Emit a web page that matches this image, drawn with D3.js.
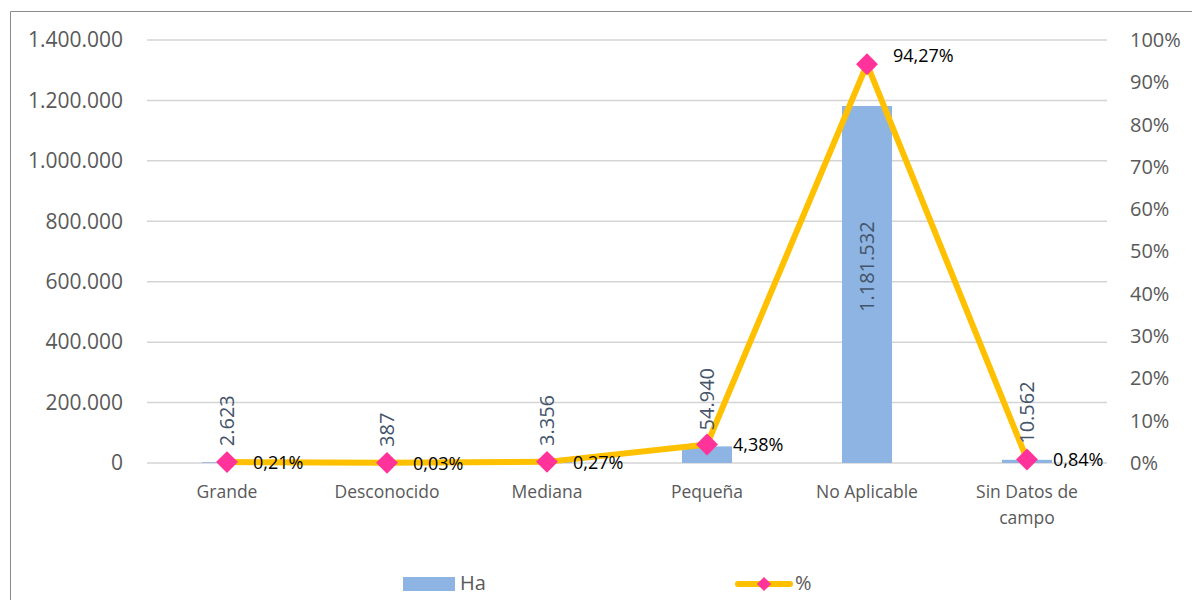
<!DOCTYPE html>
<html><head><meta charset="utf-8">
<script src="https://cdn.jsdelivr.net/npm/d3@7"></script>
<style>body{margin:0;background:#fff}svg{display:block}</style>
</head><body>
<script>
const categories = ["Grande","Desconocido","Mediana","Pequeña","No Aplicable","Sin Datos de campo"];
const haValues = [2623, 387, 3356, 54940, 1181532, 10562];
const pctValues = [0.21, 0.03, 0.27, 4.38, 94.27, 0.84];
const leftTicks = [0,200000,400000,600000,800000,1000000,1200000,1400000];
const rightTicks = [0,10,20,30,40,50,60,70,80,90,100];
const seriesNames = ["Ha","%"];

const W = 1192, H = 600;
const svg = d3.select("body").append("svg").attr("width", W).attr("height", H);
const font = "'Open Sans', sans-serif";

// frame
svg.append("path").attr("d", "M10.5,600 V11.5 H1192").attr("fill","none").attr("stroke","#8c8c8c").attr("stroke-width",1);

const x0 = 147, x1 = 1107, yTop = 40, yBot = 463;
const x = d3.scaleBand().domain(categories).range([x0, x1]).paddingInner(0.6875).paddingOuter(0.34375);
const yL = d3.scaleLinear().domain([0, 1400000]).range([yBot, yTop]);
const yR = d3.scaleLinear().domain([0, 100]).range([yBot, yTop]);

const fmtN = d => d.toLocaleString("de-DE");
const fmtP = d => d.toFixed(2).replace(".", ",") + "%";

// gridlines
svg.append("g").selectAll("line").data(leftTicks).join("line")
  .attr("x1", x0).attr("x2", x1).attr("y1", d => yL(d)).attr("y2", d => yL(d))
  .attr("stroke", "#d4d4d4").attr("stroke-width", 1.5);

// left axis
const gl = svg.append("g").attr("transform", `translate(${x0},0)`)
  .call(d3.axisLeft(yL).tickValues(leftTicks).tickFormat(fmtN).tickSize(0).tickPadding(24));
gl.select(".domain").remove();
gl.selectAll("text").attr("font-family", font).attr("font-size", 21).attr("fill", "#595959");

// right axis
const gr = svg.append("g").attr("transform", `translate(${x1},0)`)
  .call(d3.axisRight(yR).tickValues(rightTicks).tickFormat(d => d + "%").tickSize(0).tickPadding(23));
gr.select(".domain").remove();
gr.selectAll("text").attr("font-family", font).attr("font-size", 20).attr("fill", "#595959");

// category labels
const catG = svg.append("g");
categories.forEach(c => {
  const cx = x(c) + x.bandwidth()/2;
  const lines = c === "Sin Datos de campo" ? ["Sin Datos de", "campo"] : [c];
  const t = catG.append("text").attr("x", cx).attr("y", 498).attr("text-anchor","middle")
    .attr("font-family", font).attr("font-size", 17.5).attr("fill", "#595959");
  lines.forEach((l, i) => t.append("tspan").attr("x", cx).attr("dy", i === 0 ? 0 : 26).text(l));
});

// bars
svg.append("g").selectAll("rect").data(haValues).join("rect")
  .attr("x", (d,i) => x(categories[i])).attr("width", x.bandwidth())
  .attr("y", d => yL(d)).attr("height", d => yBot - yL(d))
  .attr("fill", "#8eb4e3");

// line
const line = d3.line().x((d,i) => x(categories[i]) + x.bandwidth()/2).y(d => yR(d));
svg.append("path").datum(pctValues).attr("d", line).attr("fill","none")
  .attr("stroke", "#ffc000").attr("stroke-width", 6).attr("stroke-linejoin","round");

// bar labels (rotated)
svg.append("g").selectAll("text").data(haValues).join("text")
  .attr("transform", (d,i) => {
    const cx = x(categories[i]) + x.bandwidth()/2;
    const big = d > 500000;
    const y = big ? yL(d) + (yBot - yL(d)) * 0.45 : yL(d) - 16;
    return `translate(${cx + 7},${y}) rotate(-90)`;
  })
  .attr("text-anchor", d => d > 500000 ? "middle" : "start")
  .attr("font-family", font).attr("font-size", 20).attr("fill", "#44546a")
  .text(fmtN);

// markers
const sym = d3.symbol().type(d3.symbolSquare).size(240);
svg.append("g").selectAll("path").data(pctValues).join("path")
  .attr("d", sym)
  .attr("transform", (d,i) => `translate(${x(categories[i]) + x.bandwidth()/2},${yR(d)}) rotate(45)`)
  .attr("fill", "#ff3399");

// pct labels
svg.append("g").selectAll("text").data(pctValues).join("text")
  .attr("x", (d,i) => x(categories[i]) + x.bandwidth()/2 + 26)
  .attr("y", d => yR(d) + (d > 50 ? -7 : 2))
  .attr("dominant-baseline", "middle")
  .attr("font-family", font).attr("font-size", 18).attr("fill", "#000")
  .text(fmtP);

// legend
const lg = svg.append("g");
lg.append("rect").attr("x", 403).attr("y", 577).attr("width", 52).attr("height", 14).attr("fill", "#8eb4e3");
lg.append("text").attr("x", 460).attr("y", 585).attr("dominant-baseline","middle")
  .attr("font-family", font).attr("font-size", 20).attr("fill", "#595959").text(seriesNames[0]);
lg.append("line").attr("x1", 738).attr("x2", 790).attr("y1", 584).attr("y2", 584)
  .attr("stroke", "#ffc000").attr("stroke-width", 6).attr("stroke-linecap","round");
lg.append("path").attr("d", d3.symbol().type(d3.symbolSquare).size(100)).attr("transform","translate(764,584) rotate(45)").attr("fill","#ff3399");
lg.append("text").attr("x", 795).attr("y", 585).attr("dominant-baseline","middle")
  .attr("font-family", font).attr("font-size", 20).attr("fill", "#595959").text(seriesNames[1]);
</script>
</body></html>
